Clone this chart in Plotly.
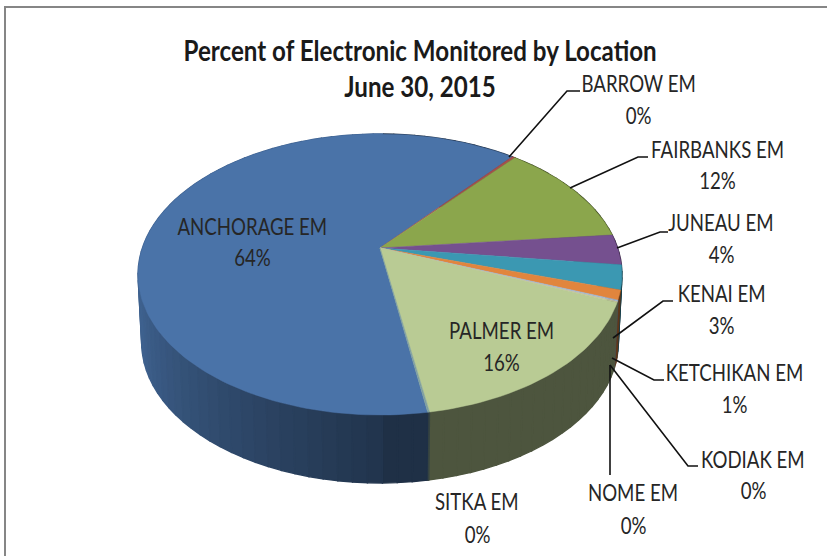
import math
import plotly.graph_objects as go

# ---- data ----
categories = ["ANCHORAGE EM", "BARROW EM", "FAIRBANKS EM", "JUNEAU EM", "KENAI EM",
              "KETCHIKAN EM", "KODIAK EM", "NOME EM", "PALMER EM", "SITKA EM"]
values = [63.6, 0.25, 12.2, 3.5, 2.8, 1.1, 0.15, 0.1, 16.2, 0.1]
colors = ["#4a73a8", "#a5504c", "#8ba64c", "#75508f", "#3b98b2",
          "#e1853d", "#9db8d8", "#c9c0a0", "#b9cb94", "#80a09e"]

# ---- presentation ----
START = 170.6            # first slice start, degrees clockwise from the far point
CX, CY = 380, 248        # screen position of the pie centre
R, A, K = 237.6, 135.5, 0.1886   # perspective of the disc
DEPTH, BOTTOM_SCALE = 68, 0.985
TITLE = ["Percent of Electronic Monitored by Location", "June 30, 2015"]
FONT = "Lato"
label_pos = {  # x, y of name, y of percentage
    "ANCHORAGE EM": (252, 225, 256), "BARROW EM": (638, 82, 114),
    "FAIRBANKS EM": (717, 148, 179), "JUNEAU EM": (721, 221, 253),
    "KENAI EM": (721, 292, 324), "KETCHIKAN EM": (734, 371, 403),
    "KODIAK EM": (753, 458, 489), "NOME EM": (633, 491, 524),
    "PALMER EM": (501, 329, 361), "SITKA EM": (477, 500, 533),
}
leaders = [
    [(509, 157), (567, 91), (580, 91)],
    [(570, 188), (638, 157), (648, 157)],
    [(617, 248), (660, 232), (668, 232)],
    [(613, 338), (663, 301), (673, 301)],
    [(612, 358), (654, 380), (664, 380)],
    [(610, 365), (688, 466), (698, 466)],
    [(610, 365), (610, 475)],
]


def project(theta, dy=0.0, scale=1.0):
    t = math.radians(theta)
    u, v = math.sin(t), math.cos(t)
    w = 1 + K * v
    return CX + scale * R * u / w, CY + dy - A * v / w


def shade(hex_color, f):
    r, g, b = (int(hex_color[i:i + 2], 16) for i in (1, 3, 5))
    return f"rgb({int(r * f)},{int(g * f)},{int(b * f)})"


def side_factor(theta):
    a = theta % 360
    if a < 180:
        return 0.42
    return min(0.85, 0.46 + (a - 180) / 70 * 0.39)


fig = go.Figure()
total = sum(values)
spans = []
a0 = START
for name, val, col in zip(categories, values, colors):
    a1 = a0 + val / total * 360
    spans.append((a0, a1, col, name))
    a0 = a1

# side wall, drawn in strips so that its shading can change around the rim
strips = []
for a0, a1, col, name in spans:
    n = max(1, math.ceil((a1 - a0) / 3))
    for i in range(n):
        s0 = a0 + (a1 - a0) * i / n
        s1 = a0 + (a1 - a0) * (i + 1) / n
        strips.append((s0, s1, col))
strips.sort(key=lambda s: -math.cos(math.radians((s[0] + s[1]) / 2)))
for s0, s1, col in strips:
    c = shade(col, side_factor((s0 + s1) / 2))
    top0, top1 = project(s0), project(s1)
    bot0, bot1 = project(s0, DEPTH, BOTTOM_SCALE), project(s1, DEPTH, BOTTOM_SCALE)
    xs = [top0[0], top1[0], bot1[0], bot0[0], top0[0]]
    ys = [top0[1], top1[1], bot1[1], bot0[1], top0[1]]
    fig.add_trace(go.Scatter(x=xs, y=ys, mode="lines", fill="toself", fillcolor=c,
                             line=dict(color=c, width=1.4), hoverinfo="skip", showlegend=False))

# top face
for a0, a1, col, name in spans:
    n = max(2, math.ceil((a1 - a0) / 1.5))
    pts = [project(a0 + (a1 - a0) * i / n) for i in range(n + 1)]
    xs = [CX] + [p[0] for p in pts] + [CX]
    ys = [CY] + [p[1] for p in pts] + [CY]
    fig.add_trace(go.Scatter(x=xs, y=ys, mode="lines", fill="toself", fillcolor=col,
                             line=dict(color=col, width=0.5), name=name, hoverinfo="name",
                             showlegend=False))

# leader lines
for pts in leaders:
    fig.add_trace(go.Scatter(x=[p[0] for p in pts], y=[p[1] for p in pts], mode="lines",
                             line=dict(color="#111111", width=1.6), hoverinfo="skip",
                             showlegend=False))

anns = []
for name, val in zip(categories, values):
    x, y1, y2 = label_pos[name]
    for txt, y in ((name, y1), (f"{round(val / total * 100)}%", y2)):
        anns.append(dict(x=x, y=y, text=txt, showarrow=False, xref="x", yref="y",
                         font=dict(family=FONT, size=24, color="#262626")))
for txt, y in zip(TITLE, (49, 85)):
    anns.append(dict(x=420, y=y, text=f"<b>{txt}</b>", showarrow=False, xref="x", yref="y",
                     font=dict(family=FONT, size=29, color="#1a1a1a")))

fig.update_layout(
    width=827, height=556, margin=dict(l=0, r=0, t=0, b=0, pad=0),
    paper_bgcolor="white", plot_bgcolor="white", showlegend=False,
    xaxis=dict(range=[0, 827], visible=False, fixedrange=True),
    yaxis=dict(range=[556, 0], visible=False, fixedrange=True),
    annotations=anns,
    shapes=[dict(type="path", path="M 5 556 L 5 7 L 827 7", xref="x", yref="y",
                 line=dict(color="#868686", width=2))],
)
# The reference's lettering is condensed: narrow each annotation around its own centre.
post = """
document.body.style.margin='0';
document.documentElement.style.overflow='hidden';
function squeeze(){
  document.querySelectorAll('.annotation-text').forEach(function(t){
    var s = parseFloat(t.style.fontSize) > 26 ? 0.833 : 0.777;
    t.style.transformBox = 'fill-box';
    t.style.transformOrigin = 'center';
    t.style.transform = 'scale(' + s + ',1)';
  });
}
squeeze();
setTimeout(squeeze, 50);
"""
fig.write_html("out.html", config={"displayModeBar": False}, post_script=post)
